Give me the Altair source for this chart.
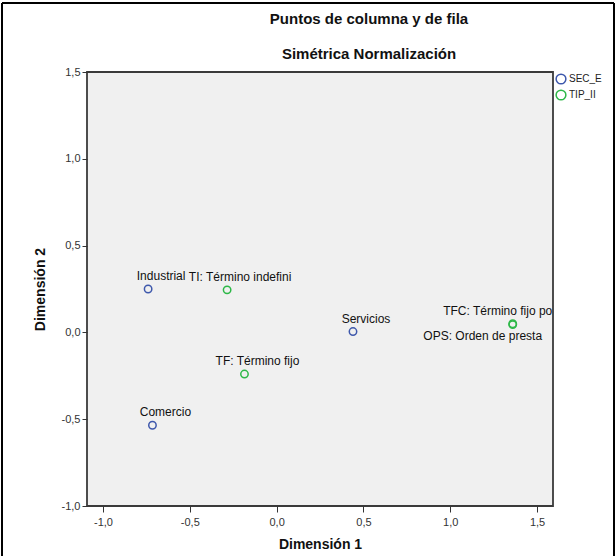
import altair as alt
import pandas as pd

# Category points from the correspondence analysis (symmetric normalization)
etiquetas = [
    "Industrial",
    "Comercio",
    "Servicios",
    "TI: Término indefini",
    "TF: Término fijo",
    "TFC: Término fijo po",
    "OPS: Orden de presta",
]
dimension_1 = [-0.74, -0.715, 0.44, -0.285, -0.185, 1.36, 1.36]
dimension_2 = [0.25, -0.535, 0.005, 0.245, -0.24, 0.05, 0.045]
grupos = ["SEC_E", "SEC_E", "SEC_E", "TIP_II", "TIP_II", "TIP_II", "TIP_II"]

series = ["SEC_E", "TIP_II"]
colores = ["#3E58AC", "#2EB848"]
ticks = [-1.0, -0.5, 0.0, 0.5, 1.0, 1.5]

df = pd.DataFrame({
    "etiqueta": etiquetas,
    "dim1": dimension_1,
    "dim2": dimension_2,
    "grupo": grupos,
})

FONT = "Liberation Sans"
label_expr = "replace(replace(format(datum.value, '.1f'), '.', ','), '\u2212', '-')"

x_enc = alt.X(
    "dim1:Q",
    scale=alt.Scale(domain=[-1.092, 1.592], nice=False, zero=False),
    axis=alt.Axis(values=ticks, labelExpr=label_expr, title="Dimensión 1",
                  grid=False, domain=False, tickSize=6, tickColor="#333",
                  labelFontSize=11, labelColor="#333", labelFont=FONT,
                  labelPadding=4, titleFontSize=14, titleFont=FONT,
                  titleFontWeight="bold", titleColor="#111", titlePadding=10),
)
y_enc = alt.Y(
    "dim2:Q",
    scale=alt.Scale(domain=[-1.0, 1.5], nice=False, zero=False),
    axis=alt.Axis(values=ticks, labelExpr=label_expr, title="Dimensión 2",
                  grid=False, domain=False, tickSize=5, tickColor="#333",
                  labelFontSize=11, labelColor="#333", labelFont=FONT,
                  labelPadding=2, titleFontSize=14, titleFont=FONT,
                  titleFontWeight="bold", titleColor="#111", titlePadding=14),
)
color_enc = alt.Color(
    "grupo:N",
    scale=alt.Scale(domain=series, range=colores),
    legend=alt.Legend(title=None, orient="none", legendX=468, legendY=1,
                      symbolType="circle", symbolSize=95, symbolStrokeWidth=1.5,
                      symbolFillColor="transparent", labelFontSize=10,
                      labelFont=FONT, labelColor="#222", labelOffset=2,
                      rowPadding=0),
)

base = alt.Chart(df)

puntos = base.mark_point(shape="circle", size=55, strokeWidth=1.5, filled=False, opacity=1).encode(
    x=x_enc, y=y_enc, color=color_enc
)

texto_kw = dict(font=FONT, fontSize=12, color="#111", align="center", baseline="middle")

arriba = base.transform_filter(
    ~alt.FieldOneOfPredicate(field="etiqueta", oneOf=["TFC: Término fijo po", "OPS: Orden de presta"])
).mark_text(dx=13, dy=-13, **texto_kw).encode(x="dim1:Q", y="dim2:Q", text="etiqueta:N")

tfc = base.transform_filter(
    alt.FieldEqualPredicate(field="etiqueta", equal="TFC: Término fijo po")
).mark_text(dx=-15, dy=-13, **texto_kw).encode(x="dim1:Q", y="dim2:Q", text="etiqueta:N")

ops = base.transform_filter(
    alt.FieldEqualPredicate(field="etiqueta", equal="OPS: Orden de presta")
).mark_text(dx=-30, dy=11, **texto_kw).encode(x="dim1:Q", y="dim2:Q", text="etiqueta:N")

# Outer frame around the whole figure
marco = alt.Chart(pd.DataFrame({"k": [0]})).mark_rule(color="#000", strokeWidth=2).encode(
    x=alt.value(-85), y=alt.value(-69), y2=alt.value(490)
)
marco_sup = alt.Chart(pd.DataFrame({"k": [0]})).mark_rule(color="#000", strokeWidth=2).encode(
    x=alt.value(-85), x2=alt.value(527), y=alt.value(-69)
)
marco_der = alt.Chart(pd.DataFrame({"k": [0]})).mark_rule(color="#000", strokeWidth=2).encode(
    x=alt.value(527), y=alt.value(-69), y2=alt.value(490)
)

chart = alt.layer(puntos, arriba, tfc, ops, marco, marco_sup, marco_der).properties(
    width=466,
    height=434,
    title=alt.TitleParams(
        text="Puntos de columna y de fila",
        subtitle="Simétrica Normalización",
        font=FONT, fontSize=15, fontWeight="bold", color="#111",
        subtitleFont=FONT, subtitleFontSize=15, subtitleFontWeight="bold",
        subtitleColor="#111", subtitlePadding=20,
        anchor="middle", dx=49, offset=-60,
    ),
    autosize=alt.AutoSizeParams(type="none"),
    padding={"left": 87, "top": 72, "right": 63, "bottom": 50},
    background="white",
).configure_view(
    fill="#F0F0F0", stroke="#3a3a3a", strokeWidth=1.8
)

chart.save("out.html", embed_options={"renderer": "svg", "actions": False})
